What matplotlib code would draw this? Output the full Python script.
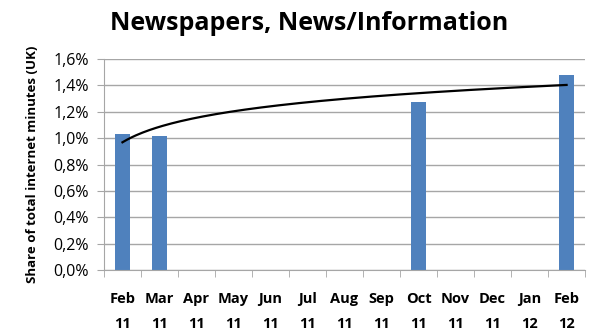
import numpy as np
import matplotlib.pyplot as plt
from matplotlib.ticker import FuncFormatter, FixedLocator

plt.rcParams['font.family'] = ['Open Sans', 'DejaVu Sans']

months = ["Feb\n11", "Mar\n11", "Apr\n11", "May\n11", "Jun\n11", "Jul\n11", "Aug\n11",
          "Sep\n11", "Oct\n11", "Nov\n11", "Dec\n11", "Jan\n12", "Feb\n12"]
share = [1.03, 1.015, None, None, None, None, None, None, 1.275, None, None, None, 1.48]

BAR_COLOR = "#4F81BD"
GRID_COLOR = "#A6A6A6"

x = np.arange(len(months))
have = [i for i, v in enumerate(share) if v is not None]
vals = [share[i] for i in have]

# logarithmic trendline over period index 1..13, like Excel
coef = np.polyfit(np.log(np.array(have) + 1), vals, 1)
xt = np.linspace(0, len(months) - 1, 200)
yt = coef[0] * np.log(xt + 1) + coef[1]

fig = plt.figure(figsize=(5.94, 3.32), dpi=100)
ax = fig.add_axes([0.175, 0.187, 0.81, 0.635])

ax.bar(have, vals, width=0.4, color=BAR_COLOR, zorder=2)
ax.plot(xt, yt, color="black", lw=1.6, zorder=3)

ax.set_xlim(-0.5, len(months) - 0.5)
ax.set_ylim(0, 1.6)
ax.set_yticks(np.arange(0, 1.61, 0.2))
ax.yaxis.set_major_formatter(FuncFormatter(lambda v, p: f"{v:.1f}%".replace(".", ",")))
ax.yaxis.grid(True, color=GRID_COLOR, lw=1, zorder=0)
ax.set_axisbelow(True)

ax.set_xticks(x)
ax.set_xticklabels(months, fontweight="bold", fontsize=10.5, linespacing=2.0)
ax.xaxis.set_minor_locator(FixedLocator(np.arange(-0.5, len(months), 1)))
ax.tick_params(axis="x", which="major", length=0, pad=16)
ax.tick_params(axis="x", which="minor", length=5, color=GRID_COLOR, direction="out")
ax.tick_params(axis="y", length=5, color=GRID_COLOR, labelsize=11.5, pad=6)

for s in ["top", "right"]:
    ax.spines[s].set_visible(False)
for s in ["left", "bottom"]:
    ax.spines[s].set_color(GRID_COLOR)

ax.set_ylabel("Share of total internet minutes (UK)", fontsize=9.5, fontweight="bold", labelpad=10)
fig.text(0.52, 0.93, "Newspapers, News/Information", ha="center", va="center",
         fontsize=18, fontweight="bold")

plt.savefig("out.png", dpi=100)
plt.close()
